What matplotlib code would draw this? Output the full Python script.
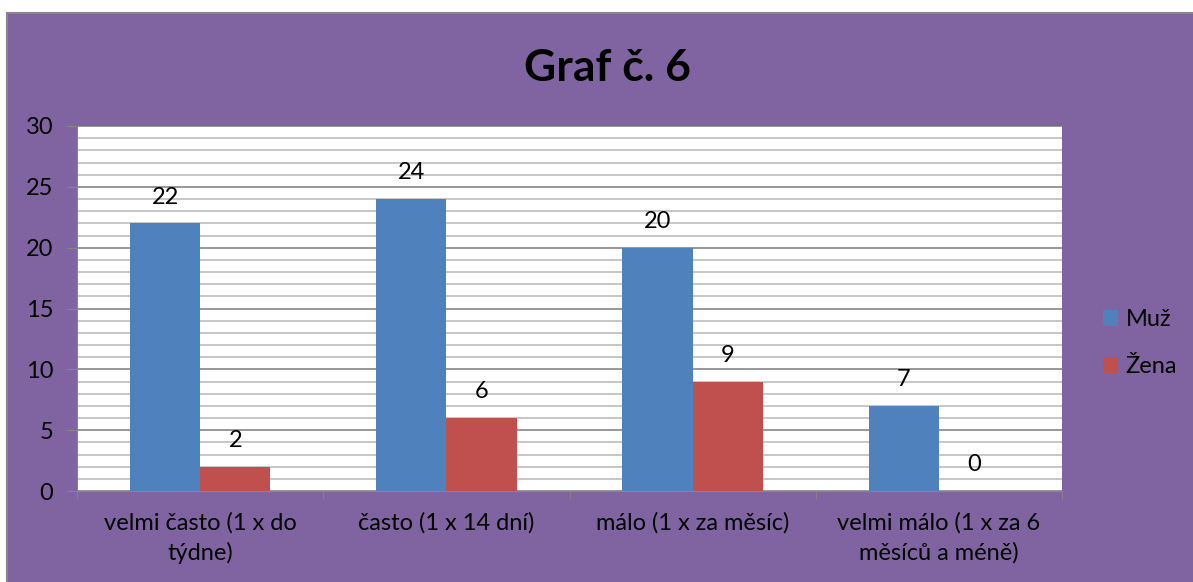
import matplotlib.pyplot as plt
import numpy as np
from matplotlib.patches import Rectangle
from matplotlib.ticker import MultipleLocator

categories = ["velmi často (1 x do\ntýdne)", "často (1 x 14 dní)",
              "málo (1 x za měsíc)", "velmi málo (1 x za 6\nměsíců a méně)"]
muz = [22, 24, 20, 7]
zena = [2, 6, 9, 0]
series_names = ["Muž", "Žena"]

plt.rcParams['font.family'] = ['Lato', 'DejaVu Sans']

fig = plt.figure(figsize=(11.93, 5.82), dpi=100)
fig.patch.set_facecolor("white")
# purple background with grey frame (right and bottom edges run off the image)
bg = Rectangle((7 / 1193, -0.05), 1.1, 1.05 - 13 / 582,
               transform=fig.transFigure, facecolor="#8064A2",
               edgecolor="#878787", linewidth=1.5, zorder=-1)
fig.add_artist(bg)

ax = fig.add_axes([77 / 1193, 91 / 582, 985 / 1193, 365 / 582])
ax.set_facecolor("white")

x = np.arange(len(categories))
w = 0.285
b1 = ax.bar(x - w / 2, muz, w, color="#4F81BD", label=series_names[0], zorder=3)
b2 = ax.bar(x + w / 2, zena, w, color="#C0504D", label=series_names[1], zorder=3)

for bars, vals in [(b1, muz), (b2, zena)]:
    for r, v in zip(bars, vals):
        ax.text(r.get_x() + r.get_width() / 2, v + 1.3, str(v), ha="center",
                va="bottom", fontsize=17, color="black")

ax.set_xlim(-0.5, len(categories) - 0.5)
ax.set_ylim(0, 30)
ax.yaxis.set_major_locator(MultipleLocator(5))
ax.yaxis.set_minor_locator(MultipleLocator(1))
ax.grid(axis="y", which="major", color="#868686", linewidth=1.2, zorder=1)
ax.grid(axis="y", which="minor", color="#BEBEBE", linewidth=1.2, zorder=1)
ax.set_axisbelow(True)
ax.tick_params(axis="y", which="minor", length=0)
ax.tick_params(axis="y", which="major", length=7, color="#868686",
               labelsize=17, pad=10)

ax.set_xticks(x)
ax.set_xticklabels(categories, fontsize=17, linespacing=1.5)
ax.tick_params(axis="x", which="major", length=0, pad=15)
ax.set_xticks(np.arange(len(categories) + 1) - 0.5, minor=True)
ax.tick_params(axis="x", which="minor", length=6, color="#868686")

for s in ["top", "right"]:
    ax.spines[s].set_visible(False)
ax.spines["left"].set_color("#868686")
ax.spines["bottom"].set_color("#868686")

fig.text(607 / 1193, 1 - 68 / 582, "Graf č. 6", ha="center", va="center",
         fontsize=32, fontweight="bold")

fig.legend(handles=[b1, b2], labels=series_names, loc="center left",
           bbox_to_anchor=(1103 / 1193, 1 - 343 / 582), frameon=False,
           fontsize=17, handlelength=0.65, handleheight=0.65, handletextpad=0.3,
           labelspacing=1.1, borderpad=0, borderaxespad=0)

fig.savefig("out.png", dpi=100)
